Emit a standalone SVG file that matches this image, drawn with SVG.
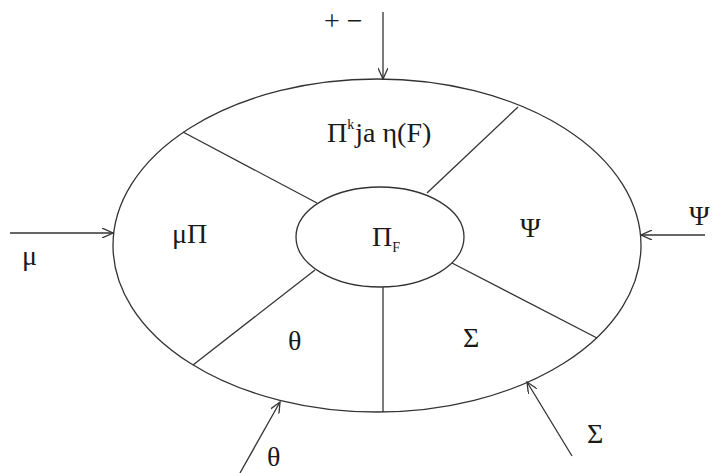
<svg xmlns="http://www.w3.org/2000/svg" width="714" height="473" viewBox="0 0 714 473">
<defs>
<style>
.s{fill:none;stroke:#333;stroke-width:1.3}
.t{font-family:"Liberation Serif","Times New Roman",serif;font-size:28px;fill:#1a1a1a}
.sm{font-size:14px}
</style>
<marker id="ah" viewBox="0 0 12 10" refX="11" refY="5" markerWidth="12" markerHeight="10" markerUnits="userSpaceOnUse" orient="auto">
<path d="M0,0 L11,5 L0,10" fill="none" stroke="#333" stroke-width="1.3"/>
</marker>
</defs>
<rect width="714" height="473" fill="#fff"/>
<g id="outer">
<ellipse class="s" cx="377" cy="245.5" rx="264" ry="166.5"/>
<text class="t" x="327" y="142">Π<tspan class="sm" dy="-13">k</tspan><tspan dy="13" dx="1">ja η(F)</tspan></text>
</g>
<g id="dividers">
<line class="s" x1="183" y1="132" x2="317" y2="203"/>
<line class="s" x1="518" y1="107" x2="427" y2="193"/>
<line class="s" x1="452" y1="263" x2="597" y2="338"/>
<line class="s" x1="315" y1="270" x2="193" y2="365"/>
<line class="s" x1="383" y1="287" x2="383" y2="412"/>
</g>
<g id="inner">
<ellipse class="s" cx="380" cy="237" rx="84" ry="50" fill="#fff"/>
<text class="t" x="372" y="246">Π<tspan class="sm" dy="6">F</tspan></text>
</g>
<g id="sector-mu"><text class="t" x="172" y="243">μΠ</text></g>
<g id="sector-psi"><text class="t" x="520" y="237">Ψ</text></g>
<g id="sector-theta"><text class="t" x="288" y="350">θ</text></g>
<g id="sector-sigma"><text class="t" x="463" y="347">Σ</text></g>
<g id="connectors">
<line class="s" x1="383" y1="12" x2="383" y2="79" marker-end="url(#ah)"/>
<line class="s" x1="10" y1="233" x2="113" y2="233" marker-end="url(#ah)"/>
<line class="s" x1="705" y1="235" x2="641" y2="235" marker-end="url(#ah)"/>
<line class="s" x1="240" y1="473" x2="280" y2="402" marker-end="url(#ah)"/>
<line class="s" x1="572" y1="456" x2="527" y2="382" marker-end="url(#ah)"/>
</g>
<g id="labels">
<text class="t" x="324" y="30" xml:space="preserve">+ −</text>
<text class="t" x="22" y="265">μ</text>
<text class="t" x="689" y="225">Ψ</text>
<text class="t" x="267" y="466">θ</text>
<text class="t" x="587" y="443">Σ</text>
</g>
</svg>
